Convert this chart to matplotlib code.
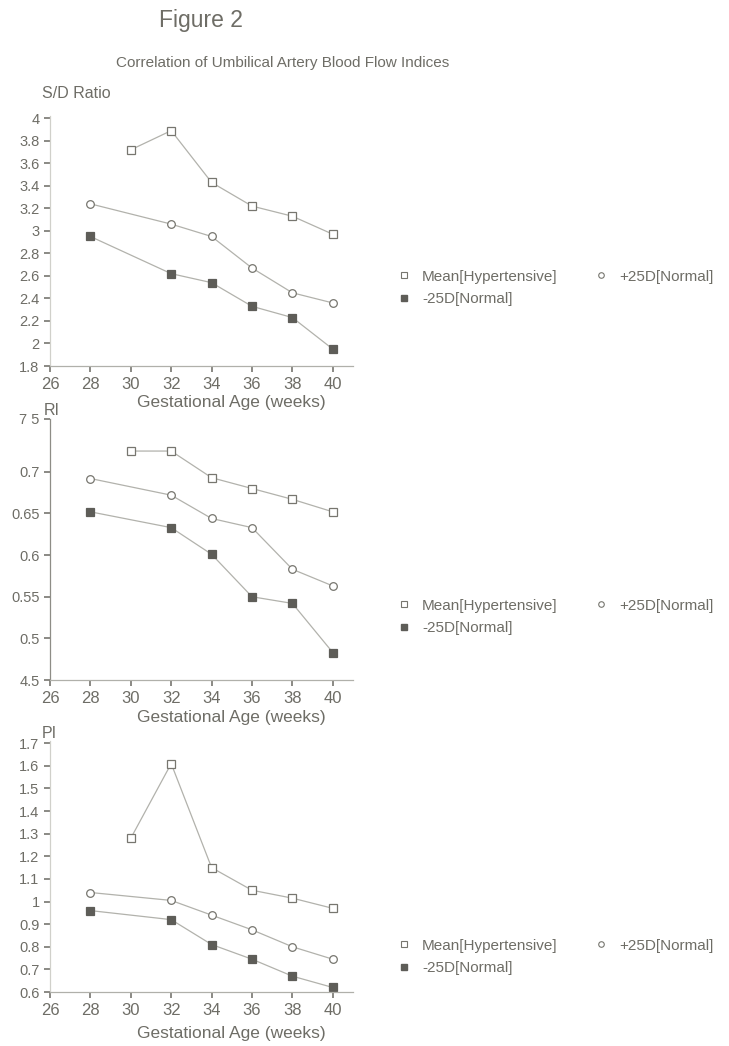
import matplotlib
matplotlib.use("Agg")
import matplotlib.pyplot as plt
from matplotlib.lines import Line2D

plt.rcParams['font.family'] = ['Liberation Sans', 'DejaVu Sans']

# data
mean_weeks = [30, 32, 34, 36, 38, 40]
norm_weeks = [28, 32, 34, 36, 38, 40]

sd_mean = [3.72, 3.89, 3.43, 3.22, 3.13, 2.97]
sd_plus = [3.24, 3.06, 2.95, 2.67, 2.45, 2.36]
sd_minus = [2.95, 2.62, 2.54, 2.33, 2.23, 1.95]

ri_mean = [0.725, 0.725, 0.693, 0.680, 0.667, 0.652]
ri_plus = [0.692, 0.672, 0.644, 0.633, 0.583, 0.563]
ri_minus = [0.652, 0.633, 0.601, 0.550, 0.542, 0.483]

pi_mean = [1.28, 1.61, 1.15, 1.05, 1.015, 0.97]
pi_plus = [1.04, 1.005, 0.94, 0.875, 0.80, 0.745]
pi_minus = [0.96, 0.92, 0.81, 0.745, 0.67, 0.62]

x_ticks = [26, 28, 30, 32, 34, 36, 38, 40]
sd_ticks = [1.8, 2.0, 2.2, 2.4, 2.6, 2.8, 3.0, 3.2, 3.4, 3.6, 3.8, 4.0]
sd_labels = ["1.8", "2", "2.2", "2.4", "2.6", "2.8", "3", "3.2", "3.4", "3.6", "3.8", "4"]
ri_ticks = [0.45, 0.5, 0.55, 0.6, 0.65, 0.7]
ri_labels = ["4.5", "0.5", "0.55", "0.6", "0.65", "0.7", "7 5"]
pi_ticks = [0.6, 0.7, 0.8, 0.9, 1.0, 1.1, 1.2, 1.3, 1.4, 1.5, 1.6, 1.7]
pi_labels = ["0.6", "0.7", "0.8", "0.9", "1", "1.1", "1.2", "1.3", "1.4", "1.5", "1.6", "1.7"]

legend_labels = ["Mean[Hypertensive]", "-25D[Normal]", "+25D[Normal]"]

txt = '#6e6d66'
line_c = '#b2b2ac'
mk_c = '#77766f'
W, H = 729, 1046

fig = plt.figure(figsize=(W / 100, H / 100), dpi=100)


def px_axes(left, top, right, bottom):
    return fig.add_axes([left / W, 1 - bottom / H, (right - left) / W, (bottom - top) / H])


def panel(ax, mean, plus, minus, ylim, yticks, ylabels, spine_c, xlab_y):
    ax.plot(mean_weeks, mean, '-', color=line_c, lw=0.9, marker='s', ms=5.5,
            mfc='white', mec=mk_c, mew=0.9)
    ax.plot(norm_weeks, plus, '-', color=line_c, lw=0.9, marker='o', ms=5.5,
            mfc='white', mec=mk_c, mew=0.9)
    ax.plot(norm_weeks, minus, '-', color=line_c, lw=0.9, marker='s', ms=5.5,
            mfc='#5e5d58', mec='#5e5d58', mew=0.9)
    ax.set_xlim(26, 41)
    ax.set_ylim(*ylim)
    ax.set_xticks(x_ticks)
    ax.set_yticks(yticks)
    ax.set_yticklabels(ylabels)
    for s in ['top', 'right']:
        ax.spines[s].set_visible(False)
    ax.spines['left'].set_color(spine_c)
    ax.spines['bottom'].set_color('#b0b0aa')
    ax.spines['left'].set_linewidth(0.9)
    ax.spines['bottom'].set_linewidth(0.9)
    ax.tick_params(axis='y', colors=mk_c, labelcolor=txt, labelsize=10.5,
                   length=4, width=1.2, pad=3.5)
    ax.tick_params(axis='x', colors=mk_c, labelcolor=txt, labelsize=12,
                   length=4, width=1.2, pad=4)
    ax.set_xlabel("Gestational Age (weeks)", fontsize=12.5, color=txt)
    ax.xaxis.set_label_coords(0.6, xlab_y)
    ax.set_facecolor('none')

    handles = [
        Line2D([], [], ls='none', marker='s', ms=4, mfc='white', mec=mk_c, mew=0.8),
        Line2D([], [], ls='none', marker='s', ms=4, mfc='#5e5d58', mec='#5e5d58'),
        Line2D([], [], ls='none', marker='o', ms=4, mfc='white', mec=mk_c, mew=0.8),
    ]
    return handles


# S/D ratio
ax1 = px_axes(50, 116, 353, 366)
h = panel(ax1, sd_mean, sd_plus, sd_minus, (1.8, 4.02), sd_ticks, sd_labels,
          '#d0d0ca', -0.115)
fig.legend(h, legend_labels, ncol=2, frameon=False, loc='center left',
           bbox_to_anchor=(383 / W, 1 - 288 / H), fontsize=11,
           handlelength=0.9, handletextpad=0.75, columnspacing=2.4,
           labelspacing=0.55, labelcolor=txt)

# RI
ax2 = px_axes(50, 419, 353, 680)
panel(ax2, ri_mean, ri_plus, ri_minus, (0.45, 0.7635), ri_ticks + [0.7635],
      ri_labels, '#8e8d86', -0.115)
fig.legend(h, legend_labels, ncol=2, frameon=False, loc='center left',
           bbox_to_anchor=(383 / W, 1 - 617 / H), fontsize=11,
           handlelength=0.9, handletextpad=0.75, columnspacing=2.4,
           labelspacing=0.55, labelcolor=txt)

# PI
ax3 = px_axes(50, 741, 353, 992)
panel(ax3, pi_mean, pi_plus, pi_minus, (0.6, 1.71), pi_ticks, pi_labels,
      '#d0d0ca', -0.135)
fig.legend(h, legend_labels, ncol=2, frameon=False, loc='center left',
           bbox_to_anchor=(383 / W, 1 - 957 / H), fontsize=11,
           handlelength=0.9, handletextpad=0.75, columnspacing=2.4,
           labelspacing=0.55, labelcolor=txt)

fig.text(201 / W, 1 - 20 / H, "Figure 2", fontsize=16.5, color=txt,
         ha='center', va='center')
fig.text(283 / W, 1 - 63 / H, "Correlation of Umbilical Artery Blood Flow Indices",
         fontsize=11, color=txt, ha='center', va='center')
fig.text(76 / W, 1 - 94 / H, "S/D Ratio", fontsize=11.5, color=txt,
         ha='center', va='center')
fig.text(52 / W, 1 - 410 / H, "RI", fontsize=11.5, color=txt,
         ha='center', va='center')
fig.text(49 / W, 1 - 734 / H, "PI", fontsize=11.5, color=txt,
         ha='center', va='center')

fig.savefig("out.png", dpi=100, facecolor='white')
